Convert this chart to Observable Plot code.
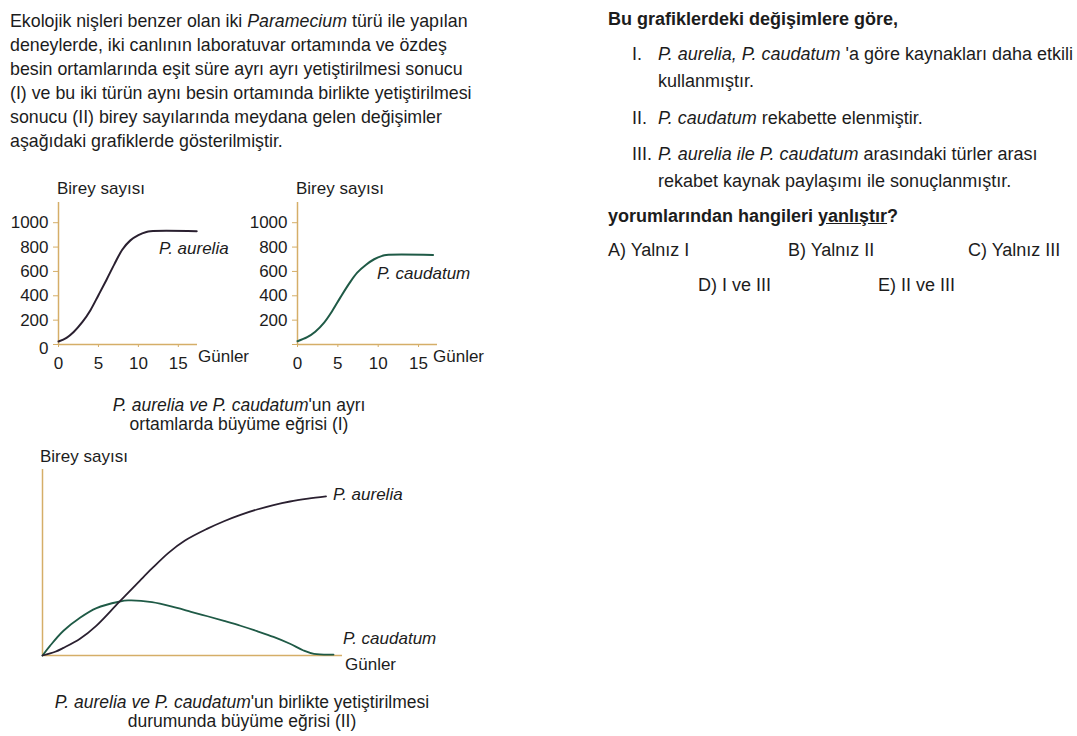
<!DOCTYPE html>
<html><head><meta charset="utf-8">
<script src="https://cdn.jsdelivr.net/npm/d3@7"></script>
<script src="https://cdn.jsdelivr.net/npm/@observablehq/plot@0.6"></script>
<style>
html,body{margin:0;padding:0;background:#fff;}
#root{position:relative;width:1077px;height:736px;overflow:hidden;font-family:"Liberation Sans",Arial,sans-serif;color:#1c1c1c;background:#fff;}
.t{position:absolute;white-space:nowrap;line-height:26px;}
.chart{position:absolute;}
.chart svg{overflow:visible;}
</style></head><body><div id="root"></div>
<script>
// ---- data ----
const axisTicksX = [0, 5, 10, 15];
const axisTicksY = [0, 200, 400, 600, 800, 1000];

// Graph I: grown separately
const daysAurelia = [0, 1, 1.9, 3, 4, 5, 6, 7, 8, 9, 10, 11, 11.5, 17.3];
const aureliaAlone = [25, 55, 103, 185, 282, 405, 530, 660, 780, 855, 898, 924, 930, 930];
const daysCaudatum = [0, 1.2, 2.2, 3.3, 4.3, 5.3, 6.4, 7.4, 8.5, 9.5, 10.5, 11, 16.8];
const caudatumAlone = [27, 60, 105, 180, 275, 385, 500, 590, 655, 700, 728, 735, 735];

// Graph II: grown together (unitless)
const daysTogetherA = [0, 0.85, 1.4, 2.5, 3.6, 5.1, 6.5, 7.3, 8.4, 9.5, 11.0, 12.1, 13.2, 14.3, 15.4, 16.5, 17.7, 18.9];
const aureliaTogether = [0, 20, 41, 90, 161, 287, 403, 468, 552, 618, 682, 722, 756, 785, 809, 828, 843, 855];
const daysTogetherC = [0, 0.5, 1.4, 2.5, 3.6, 5.1, 5.7, 7.3, 8.9, 9.9, 11.0, 12.1, 13.2, 14.3, 15.4, 16.5, 17.4, 18.1, 19.4];
const caudatumTogether = [0, 52, 133, 203, 255, 289, 296, 287, 257, 235, 211, 186, 160, 131, 100, 63, 27, 9, 5];

const AXIS = "#d5ae68";
const C_AUR = "#2a2030";
const C_CAU = "#1f5a46";
const FONT = '"Liberation Sans", Arial, sans-serif';

const root = document.getElementById("root");
function put(html, x, yc, size, opts = {}) {
  const d = document.createElement("div");
  d.className = "t";
  d.style.left = x + "px";
  d.style.top = (yc - 13) + "px";
  d.style.fontSize = size + "px";
  if (opts.center) d.style.transform = "translateX(-50%)";
  if (opts.bold) d.style.fontWeight = "bold";
  d.innerHTML = html;
  root.appendChild(d);
}
function place(svg, left, top) {
  const w = document.createElement("div");
  w.className = "chart";
  w.style.left = left + "px";
  w.style.top = top + "px";
  w.appendChild(svg);
  root.appendChild(w);
}
const zip = (xs, ys) => xs.map((x, i) => ({x, y: ys[i]}));
const fmtY = d => d === 0 ? "" : String(d);

// ---- left paragraph ----
const para = [
  "Ekolojik nişleri benzer olan iki <i>Paramecium</i> türü ile yapılan",
  "deneylerde, iki canlının laboratuvar ortamında ve özdeş",
  "besin ortamlarında eşit süre ayrı ayrı yetiştirilmesi sonucu",
  "(I) ve bu iki türün aynı besin ortamında birlikte yetiştirilmesi",
  "sonucu (II) birey sayılarında meydana gelen değişimler",
  "aşağıdaki grafiklerde gösterilmiştir."
];
para.forEach((l, i) => put(l, 10, 20.7 + i * 24, 17.8));

const styleSmall = {fontFamily: FONT, fontSize: "17px", color: "#1c1c1c", background: "transparent", overflow: "visible"};

// chart I-a
const c1 = Plot.plot({
  width: 250, height: 200,
  marginLeft: 58, marginRight: 53, marginTop: 22, marginBottom: 36,
  x: {domain: [0, 17.4], label: null},
  y: {domain: [0, 1166], label: null},
  style: styleSmall,
  marks: [
    Plot.axisX(axisTicksX, {tickSize: 3, tickPadding: 9, stroke: AXIS, label: null}),
    Plot.axisY(axisTicksY, {tickSize: 5, tickPadding: 5, stroke: AXIS, label: null, tickFormat: fmtY}),
    Plot.axisY([0], {tickSize: 0, tickPadding: 10, dy: 4, label: null, tickFormat: d => String(d)}),
    Plot.ruleX([0], {stroke: AXIS, strokeWidth: 1.5}),
    Plot.ruleY([0], {stroke: AXIS, strokeWidth: 1.5}),
    Plot.line(zip(daysAurelia, aureliaAlone), {x: "x", y: "y", curve: "catmull-rom", stroke: C_AUR, strokeWidth: 2})
  ]
});
place(c1, 0, 180);

// chart I-b
const c2 = Plot.plot({
  width: 250, height: 200,
  marginLeft: 57, marginRight: 53, marginTop: 22, marginBottom: 36,
  x: {domain: [0, 17.35], label: null},
  y: {domain: [0, 1166], label: null},
  style: styleSmall,
  marks: [
    Plot.axisX(axisTicksX, {tickSize: 3, tickPadding: 9, stroke: AXIS, label: null}),
    Plot.axisY(axisTicksY, {tickSize: 5, tickPadding: 5, stroke: AXIS, label: null, tickFormat: fmtY}),
    Plot.ruleX([0], {stroke: AXIS, strokeWidth: 1.5}),
    Plot.ruleY([0], {stroke: AXIS, strokeWidth: 1.5}),
    Plot.line(zip(daysCaudatum, caudatumAlone), {x: "x", y: "y", curve: "catmull-rom", stroke: C_CAU, strokeWidth: 2})
  ]
});
place(c2, 240, 180);

put("Birey sayısı", 57, 189, 17);
put("Birey sayısı", 296, 189, 17);
put("Günler", 198, 357, 17);
put("Günler", 433, 357, 17);
put("<i>P. aurelia</i>", 159, 249, 17);
put("<i>P. caudatum</i>", 377, 274, 17);
put("<i>P. aurelia ve P. caudatum</i>'un ayrı", 239, 405, 17.5, {center: true});
put("ortamlarda büyüme eğrisi (I)", 239, 424, 17.5, {center: true});

// chart II
const c3 = Plot.plot({
  width: 460, height: 230,
  marginLeft: 42, marginRight: 118, marginTop: 29, marginBottom: 15,
  x: {domain: [0, 20], axis: null},
  y: {domain: [0, 1000], axis: null},
  style: {fontFamily: FONT, fontSize: "17px", background: "transparent", overflow: "visible"},
  marks: [
    Plot.ruleX([0], {stroke: AXIS, strokeWidth: 1.5}),
    Plot.ruleY([0], {stroke: AXIS, strokeWidth: 1.5}),
    Plot.line(zip(daysTogetherC, caudatumTogether), {x: "x", y: "y", curve: "catmull-rom", stroke: C_CAU, strokeWidth: 1.8}),
    Plot.line(zip(daysTogetherA, aureliaTogether), {x: "x", y: "y", curve: "catmull-rom", stroke: C_AUR, strokeWidth: 1.8})
  ]
});
place(c3, 0, 440);

put("Birey sayısı", 40, 457, 17);
put("<i>P. aurelia</i>", 333, 495, 17);
put("<i>P. caudatum</i>", 343, 639, 17);
put("Günler", 345, 665, 17);
put("<i>P. aurelia ve P. caudatum</i>'un birlikte yetiştirilmesi", 242, 702, 17.5, {center: true});
put("durumunda büyüme eğrisi (II)", 242, 721, 17.5, {center: true});

// ---- right column ----
put("Bu grafiklerdeki değişimlere göre,", 608, 18.5, 18, {bold: true});
put("I.", 632, 53.5, 18);
put("<i>P. aurelia, P. caudatum</i> 'a göre kaynakları daha etkili", 658, 53.5, 18);
put("kullanmıştır.", 658, 81, 18);
put("II.", 632, 117.5, 18);
put("<i>P. caudatum</i> rekabette elenmiştir.", 658, 117.5, 18);
put("III.", 632, 154, 18);
put("<i>P. aurelia ile P. caudatum</i> arasındaki türler arası", 658, 154, 18);
put("rekabet kaynak paylaşımı ile sonuçlanmıştır.", 658, 180.5, 18);
put("yorumlarından hangileri <u>yanlıştır</u>?", 608, 216, 18, {bold: true});
put("A) Yalnız I", 608, 249.5, 18);
put("B) Yalnız II", 788, 249.5, 18);
put("C) Yalnız III", 968, 249.5, 18);
put("D) I ve III", 698, 285, 18);
put("E) II ve III", 878, 285, 18);
</script></body></html>
